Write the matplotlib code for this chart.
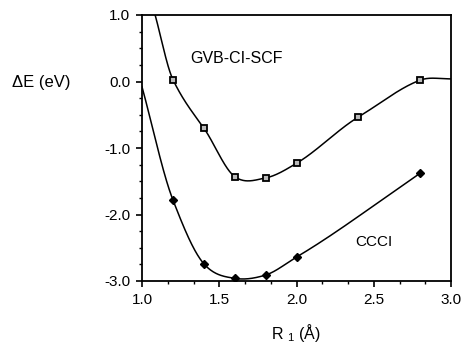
import numpy as np
import matplotlib
matplotlib.use("Agg")
import matplotlib.pyplot as plt
from matplotlib.ticker import MultipleLocator, FormatStrFormatter

plt.rcParams['font.family'] = ['Liberation Sans', 'DejaVu Sans']
plt.rcParams['mathtext.fontset'] = 'custom'
plt.rcParams['mathtext.rm'] = 'Liberation Sans'
plt.rcParams['mathtext.it'] = 'Liberation Sans'

# ---- data ----
r_gvb = [1.2, 1.4, 1.6, 1.8, 2.0, 2.4, 2.8]
e_gvb = [0.03, -0.70, -1.43, -1.45, -1.23, -0.535, 0.02]
r_ccci = [1.2, 1.4, 1.6, 1.8, 2.0, 2.8]
e_ccci = [-1.78, -2.74, -2.96, -2.91, -2.64, -1.38]

# smooth-curve nodes (markers plus where the drawn curves leave the frame)
gvb_curve_r = [1.085, 1.2, 1.4, 1.6, 1.8, 2.0, 2.4, 2.8, 3.0]
gvb_curve_e = [1.0, 0.03, -0.70, -1.43, -1.45, -1.23, -0.535, 0.02, 0.04]
ccci_curve_r = [1.0, 1.2, 1.4, 1.6, 1.8, 2.0, 2.8]
ccci_curve_e = [-0.08, -1.78, -2.74, -2.96, -2.91, -2.64, -1.38]

x_ticks = [1.0, 1.5, 2.0, 2.5, 3.0]
y_ticks = [1.0, 0.0, -1.0, -2.0, -3.0]


def cardinal_spline(x, y, tension=0.1, n=60):
    x = np.asarray(x, float)
    y = np.asarray(y, float)
    m = len(x)
    slopes = np.zeros(m)
    for i in range(m):
        if i == 0:
            slopes[i] = (y[1] - y[0]) / (x[1] - x[0])
        elif i == m - 1:
            slopes[i] = (y[-1] - y[-2]) / (x[-1] - x[-2])
        else:
            slopes[i] = (1 - tension) * (y[i + 1] - y[i - 1]) / (x[i + 1] - x[i - 1])
    xs_all, ys_all = [], []
    for i in range(m - 1):
        h = x[i + 1] - x[i]
        t = np.linspace(0, 1, n)
        h00 = 2 * t ** 3 - 3 * t ** 2 + 1
        h10 = t ** 3 - 2 * t ** 2 + t
        h01 = -2 * t ** 3 + 3 * t ** 2
        h11 = t ** 3 - t ** 2
        ys = h00 * y[i] + h10 * h * slopes[i] + h01 * y[i + 1] + h11 * h * slopes[i + 1]
        xs_all.append(x[i] + t * h)
        ys_all.append(ys)
    return np.concatenate(xs_all), np.concatenate(ys_all)


fig = plt.figure(figsize=(4.64, 3.45), dpi=100)
ax = fig.add_axes([142 / 464, 1 - 281 / 345, (451 - 142) / 464, (281 - 15) / 345])

xs, ys = cardinal_spline(gvb_curve_r, gvb_curve_e)
ax.plot(xs, ys, color='black', lw=1.1)
xs, ys = cardinal_spline(ccci_curve_r, ccci_curve_e)
ax.plot(xs, ys, color='black', lw=1.1)

ax.plot(r_gvb, e_gvb, ls='none', marker='s', ms=5, mfc='#bbbbbb', mec='black', mew=1.3)
ax.plot(r_ccci, e_ccci, ls='none', marker='D', ms=4.5, mfc='black', mec='black')

ax.text(1.31, 0.34, 'GVB-CI-SCF', fontsize=11.5, ha='left', va='center')
ax.text(2.38, -2.42, 'CCCI', fontsize=11, ha='left', va='center')

ax.set_xlim(1.0, 3.0)
ax.set_ylim(-3.0, 1.0)
ax.set_xticks(x_ticks)
ax.set_yticks(y_ticks)
ax.xaxis.set_minor_locator(MultipleLocator(0.5 / 3))
ax.yaxis.set_minor_locator(MultipleLocator(0.25))
ax.xaxis.set_major_formatter(FormatStrFormatter('%.1f'))
ax.yaxis.set_major_formatter(FormatStrFormatter('%.1f'))
ax.tick_params(which='major', direction='out', length=4.5, width=1.2, labelsize=11, pad=4)
ax.tick_params(which='minor', direction='out', length=2.5, width=1.0)
for s in ax.spines.values():
    s.set_linewidth(1.3)

fig.text(12 / 464, 1 - 82 / 345, 'ΔE (eV)', fontsize=12, ha='left', va='center')
fig.text(296 / 464, 1 - 333 / 345, r'R $_{1}$ (Å)', fontsize=11.5, ha='center', va='center')

fig.savefig('out.png', dpi=100)
